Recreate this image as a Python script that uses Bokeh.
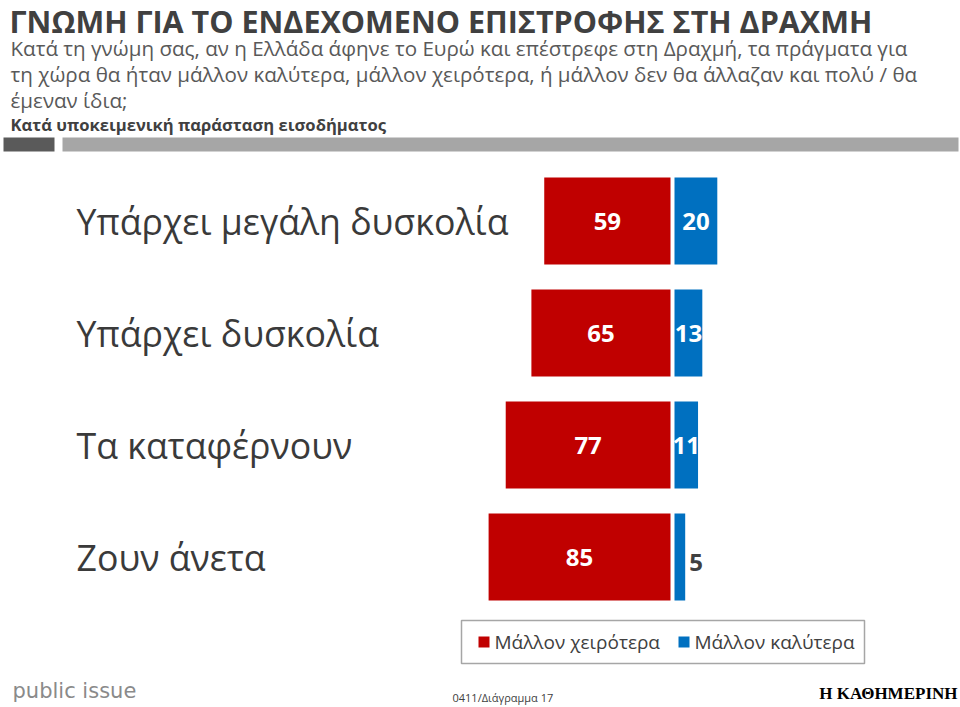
from bokeh.plotting import figure
from bokeh.models import Range1d, Label, ColumnDataSource
from bokeh.core.properties import value
from bokeh.embed import file_html
from bokeh.resources import INLINE

# ---------------- data ----------------
categories = ["Υπάρχει μεγάλη δυσκολία", "Υπάρχει δυσκολία", "Τα καταφέρνουν", "Ζουν άνετα"]
worse = [59, 65, 77, 85]      # Μάλλον χειρότερα
better = [20, 13, 11, 5]      # Μάλλον καλύτερα
series_names = ["Μάλλον χειρότερα", "Μάλλον καλύτερα"]

title = "ΓΝΩΜΗ ΓΙΑ ΤΟ ΕΝΔΕΧΟΜΕΝΟ ΕΠΙΣΤΡΟΦΗΣ ΣΤΗ ΔΡΑΧΜΗ"
subtitle_lines = [
    "Κατά τη γνώμη σας, αν η Ελλάδα άφηνε το Ευρώ και επέστρεφε στη Δραχμή, τα πράγματα για",
    "τη χώρα θα ήταν μάλλον καλύτερα, μάλλον χειρότερα, ή μάλλον δεν θα άλλαζαν και πολύ / θα",
    "έμεναν ίδια;",
]
breakdown = "Κατά υποκειμενική παράσταση εισοδήματος"
footer_note = "0411/Διάγραμμα 17"
brand_left = "public issue"
brand_right = "Η ΚΑΘΗΜΕΡΙΝΗ"

RED = "#C00000"
BLUE = "#0070C0"
FONT = "Open Sans"

# ---------------- layout helpers ----------------
W, H = 960, 707
SX = 2.14          # pixels per percentage point
X0 = 672           # pixel of zero line
ROW0 = 220.5       # pixel centre of first row
PITCH = 112.0      # pixels between rows
GAP = 2.0 / SX     # half gap between the red and blue bars


def dx(rx):
    return (rx - X0) / SX


def dy(ry):
    return (ry - ROW0) / PITCH


p = figure(width=W, height=H, output_backend="svg", toolbar_location=None,
           x_range=Range1d(-X0 / SX, (W - X0) / SX),
           y_range=Range1d((H - ROW0) / PITCH, -ROW0 / PITCH),
           x_axis_location=None, y_axis_location=None, min_border=0)
p.grid.visible = False
p.outline_line_color = None
p.background_fill_color = "white"
p.border_fill_color = "white"

rows = list(range(len(categories)))

# ---------------- header decorations ----------------
p.quad(left=[dx(3)], right=[dx(54)], top=[dy(137)], bottom=[dy(151)],
       fill_color="#5a5a5a", line_color=None)
p.quad(left=[dx(62)], right=[dx(958)], top=[dy(137)], bottom=[dy(151)],
       fill_color="#a6a6a6", line_color=None)

p.add_layout(Label(x=dx(9), y=dy(20.5), text=title, text_font=FONT, text_font_size="30.5px",
                   text_font_style="bold", text_color="#404040", text_baseline="middle"))
for i, line in enumerate(subtitle_lines):
    p.add_layout(Label(x=dx(10), y=dy(47 + 26 * i), text=line, text_font=FONT,
                       text_font_size="20.6px", text_color="#595959", text_baseline="middle"))
p.add_layout(Label(x=dx(10), y=dy(124), text=breakdown, text_font=FONT, text_font_size="16.6px",
                   text_font_style="bold", text_color="#404040", text_baseline="middle"))

# ---------------- bars ----------------
src = ColumnDataSource(dict(
    y=rows,
    cat=categories,
    wl=[-v - GAP for v in worse],
    wr=[-GAP for _ in worse],
    bl=[GAP for _ in better],
    br=[GAP + v for v in better],
    wlab=[str(v) for v in worse],
    wx=[-v / 2 - GAP for v in worse],
    blab=[str(v) for v in better],
    bx=[GAP + v / 2 if v >= 8 else GAP + v + 4 / SX for v in better],
    by=[r if v >= 8 else r + 5 / PITCH for r, v in zip(rows, better)],
    balign=["center" if v >= 8 else "left" for v in better],
    bcol=["white" if v >= 8 else "#404040" for v in better],
    catx=[dx(76) for _ in categories],
))

BH = 87 / PITCH
p.hbar(y="y", left="wl", right="wr", height=BH, fill_color=RED, line_color=None, source=src)
p.hbar(y="y", left="bl", right="br", height=BH, fill_color=BLUE, line_color=None, source=src)

p.text(x="wx", y="y", text="wlab", text_font=value(FONT), text_font_size=value("24px"),
       text_font_style="bold", text_color="white", text_align="center",
       text_baseline="middle", source=src)
p.text(x="bx", y="by", text="blab", text_font=value(FONT), text_font_size=value("24px"),
       text_font_style="bold", text_color="bcol", text_align="balign",
       text_baseline="middle", source=src)

p.text(x="catx", y="y", text="cat", text_font=value(FONT), text_font_size=value("35.7px"),
       text_color="#3a3a3a", text_align="left", text_baseline="middle", source=src)

# ---------------- legend ----------------
p.quad(left=[dx(461)], right=[dx(864)], top=[dy(620)], bottom=[dy(663)],
       fill_color="white", line_color="#a6a6a6", line_width=1.5)
leg_sq_x = [478, 678]
leg_cols = [RED, BLUE]
for name, sx, col in zip(series_names, leg_sq_x, leg_cols):
    p.quad(left=[dx(sx)], right=[dx(sx + 11)], top=[dy(636)], bottom=[dy(647)],
           fill_color=col, line_color=None)
    p.add_layout(Label(x=dx(sx + 16), y=dy(641), text=name, text_font=FONT,
                       text_font_size="19px", text_color="#404040", text_baseline="middle"))

# ---------------- footer ----------------
p.add_layout(Label(x=dx(12), y=dy(690), text=brand_left, text_font="DejaVu Sans",
                   text_font_size="21px", text_color="#8a8a8a", text_baseline="middle"))
p.add_layout(Label(x=dx(452), y=dy(697), text=footer_note, text_font=FONT,
                   text_font_size="11px", text_color="#404040", text_baseline="middle"))
p.add_layout(Label(x=dx(957), y=dy(693), text=brand_right, text_font="Liberation Serif",
                   text_font_size="17px", text_font_style="bold", text_color="black",
                   text_align="right", text_baseline="middle"))

open("out.html", "w").write(file_html(p, INLINE))
